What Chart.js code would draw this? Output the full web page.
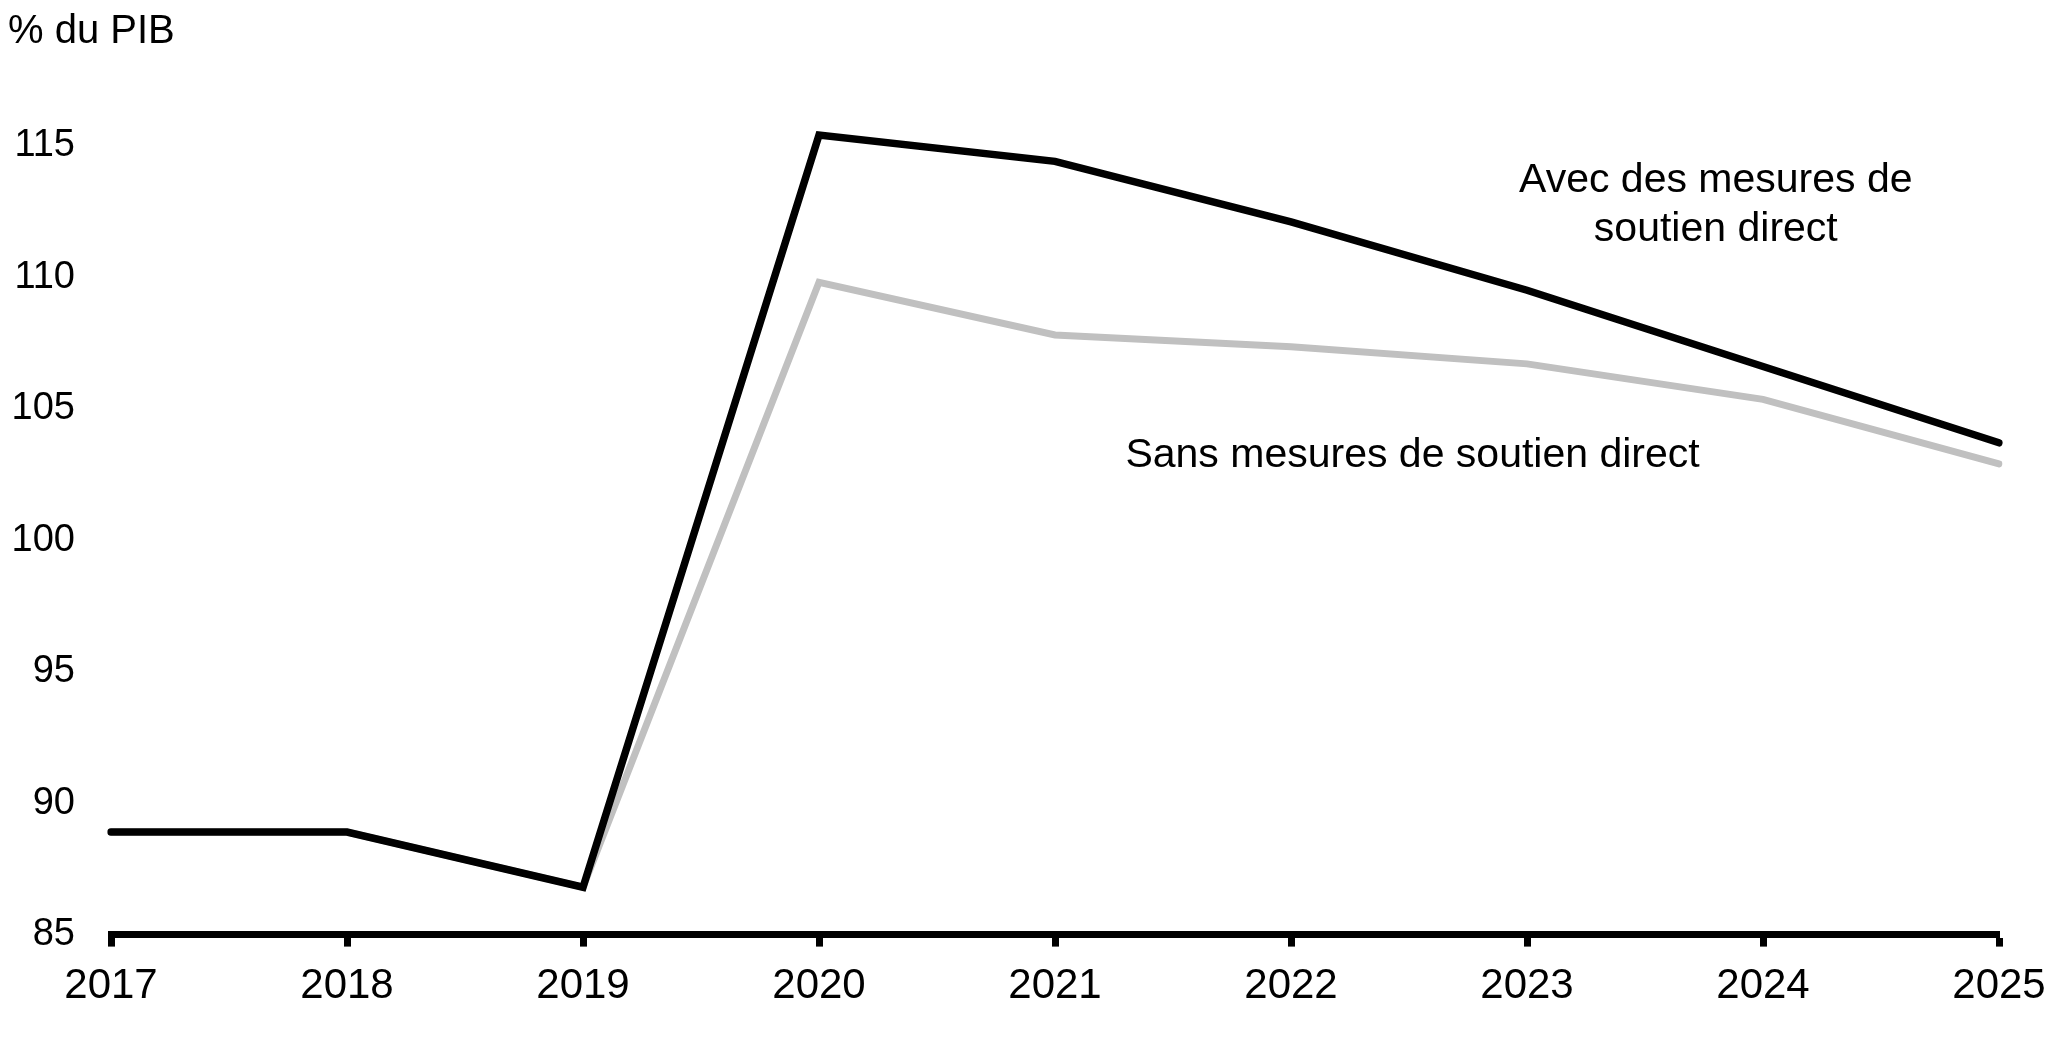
<!DOCTYPE html>
<html>
<head>
<meta charset="utf-8">
<script src="https://cdn.jsdelivr.net/npm/chart.js@4/dist/chart.umd.min.js"></script>
<style>
  html, body { margin: 0; padding: 0; background: #fff; }
  #wrap { width: 2072px; height: 1037px; position: relative; }
</style>
</head>
<body>
<div id="wrap"><canvas id="chart"></canvas></div>
<script>
// Ratio dette/PIB — avec et sans mesures de soutien direct
const years = ['2017', '2018', '2019', '2020', '2021', '2022', '2023', '2024', '2025'];
const avecSoutien = [88.9, 88.9, 86.8, 115.4, 114.4, 112.1, 109.5, 106.6, 103.7];
const sansSoutien = [88.9, 88.9, 86.8, 109.8, 107.8, 107.35, 106.7, 105.35, 102.9];
const yTicks = [85, 90, 95, 100, 105, 110, 115];

const FONT = '"Liberation Sans", Arial, sans-serif';

// Notes placed in data space (x = category index, y = % du PIB)
const notes = [
  { lines: ['Avec des mesures de', 'soutien direct'], x: 6.8, y: 113.65 },
  { lines: ['Sans mesures de soutien direct'], x: 5.515, y: 103.2 },
];

const textPlugin = {
  id: 'textPlugin',
  afterDraw(chart) {
    const { ctx, scales: { x, y } } = chart;
    ctx.save();
    ctx.fillStyle = '#000';
    ctx.textBaseline = 'middle';

    // unit label top-left
    ctx.font = `40px ${FONT}`;
    ctx.textAlign = 'left';
    ctx.fillText('% du PIB', 8, 32);

    ctx.font = `41px ${FONT}`;
    ctx.textAlign = 'center';
    notes.forEach(n => {
      const px = x.getPixelForValue(n.x);
      const py = y.getPixelForValue(n.y);
      n.lines.forEach((l, i) => ctx.fillText(l, px, py + i * 49));
    });
    ctx.restore();
  }
};

new Chart(document.getElementById('chart'), {
  type: 'line',
  data: {
    labels: years,
    datasets: [
      {
        label: 'Avec des mesures de soutien direct',
        data: avecSoutien,
        borderColor: '#000000',
        borderWidth: 7.5,
        pointRadius: 0,
        borderJoinStyle: 'miter',
        borderCapStyle: 'round',
        tension: 0,
        order: 1,
      },
      {
        label: 'Sans mesures de soutien direct',
        data: sansSoutien,
        borderColor: '#c0c0c0',
        borderWidth: 7,
        pointRadius: 0,
        borderJoinStyle: 'miter',
        borderCapStyle: 'round',
        tension: 0,
        order: 2,
      }
    ]
  },
  options: {
    responsive: true,
    maintainAspectRatio: false,
    animation: false,
    layout: { padding: { top: 11, right: 73, bottom: 10, left: 0 } },
    plugins: {
      legend: { display: false },
      tooltip: { enabled: false },
    },
    scales: {
      x: {
        offset: false,
        border: { display: true, color: '#000', width: 7 },
        grid: {
          display: true,
          drawOnChartArea: false,
          drawTicks: true,
          tickLength: 12,
          tickWidth: 7,
          color: '#000',
        },
        ticks: {
          color: '#000',
          padding: 15,
          maxRotation: 0,
          autoSkip: false,
          font: { size: 42, family: FONT },
        }
      },
      y: {
        min: 85,
        max: 118.3,
        border: { display: false },
        grid: { display: false, drawTicks: false },
        afterBuildTicks: s => { s.ticks = yTicks.map(v => ({ value: v })); },
        afterFit: s => { s.width = 111; },
        ticks: {
          color: '#000',
          padding: 36,
          font: { size: 38, family: FONT },
        }
      }
    }
  },
  plugins: [textPlugin]
});
</script>
</body>
</html>
